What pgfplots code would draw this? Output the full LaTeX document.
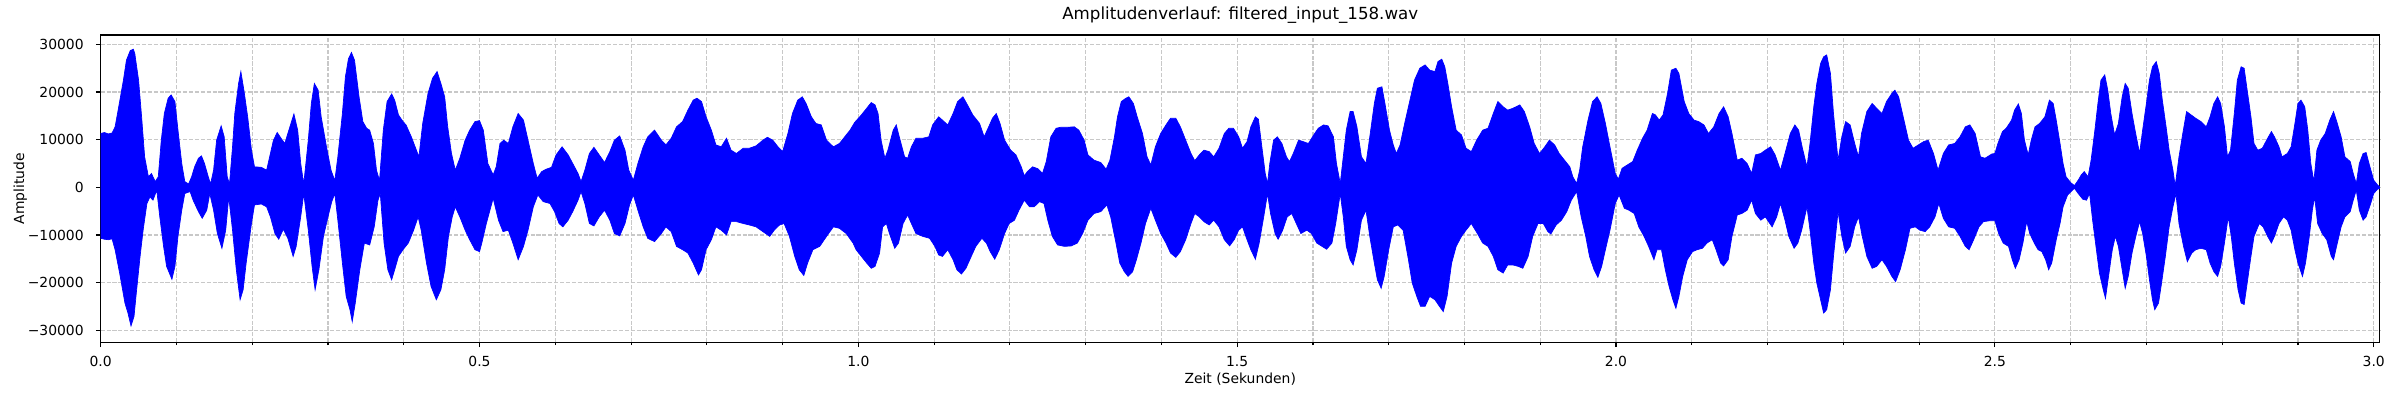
\documentclass[border=0pt]{standalone}
\usepackage{fontspec}
\setmainfont{DejaVu Sans}
\usepackage{pgfplots}
\usepackage{pgfplotstable}
\pgfplotsset{compat=1.18}
\usepgfplotslibrary{fillbetween}
\definecolor{gridc}{RGB}{200,200,200}

\pgfplotstableread{
t v
0.000 11300
0.005 11500
0.010 11200
0.015 11400
0.019 12700
0.023 16200
0.030 22500
0.034 26700
0.039 28700
0.043 29000
0.045 28100
0.050 22500
0.054 14800
0.058 6400
0.063 2200
0.067 2900
0.072 1200
0.076 2200
0.080 9900
0.084 15500
0.089 18700
0.093 19400
0.098 18000
0.102 12000
0.107 5000
0.111 1200
0.116 700
0.120 2200
0.124 4300
0.129 6100
0.133 6600
0.137 5000
0.142 2200
0.145 700
0.149 3600
0.153 9900
0.159 12900
0.163 10600
0.167 2200
0.170 700
0.174 8500
0.177 15500
0.182 21800
0.185 24300
0.189 20400
0.194 14800
0.199 7800
0.203 4300
0.212 4200
0.219 3600
0.223 6400
0.228 9900
0.233 11500
0.238 10300
0.243 9200
0.247 11300
0.255 15400
0.260 12000
0.264 5000
0.268 700
0.274 9900
0.278 17600
0.282 21800
0.287 20400
0.291 14800
0.298 8500
0.304 3600
0.309 1400
0.313 6400
0.319 15500
0.323 23200
0.327 27000
0.331 28300
0.335 26700
0.341 19000
0.346 13800
0.351 12400
0.355 12000
0.360 9200
0.364 3600
0.368 1400
0.373 12000
0.378 18000
0.384 19600
0.388 18300
0.393 15200
0.399 13800
0.403 13100
0.410 10600
0.415 8500
0.420 6400
0.425 13400
0.432 19700
0.438 22900
0.444 24300
0.449 21800
0.454 19000
0.458 12700
0.463 7100
0.468 3600
0.474 6100
0.481 9900
0.487 12000
0.494 13800
0.500 14000
0.505 12000
0.511 5000
0.518 2600
0.522 4300
0.527 9200
0.532 9900
0.538 9200
0.544 12700
0.551 15500
0.558 14100
0.564 9900
0.571 5000
0.576 1900
0.582 3300
0.588 3800
0.595 4200
0.601 6800
0.609 8500
0.617 6800
0.623 5000
0.630 2900
0.634 1200
0.639 3600
0.645 7100
0.651 8400
0.658 6800
0.665 5200
0.672 7500
0.678 9900
0.685 10800
0.692 7800
0.697 3600
0.703 1500
0.709 5000
0.716 8500
0.722 10600
0.731 12000
0.740 9900
0.746 8900
0.753 10300
0.760 12700
0.768 13800
0.775 16200
0.782 18300
0.787 18700
0.793 18000
0.799 14800
0.806 12000
0.812 8900
0.819 8500
0.826 10300
0.832 7800
0.839 7100
0.848 8200
0.856 8200
0.865 8700
0.874 9900
0.880 10500
0.887 9900
0.894 8500
0.900 7500
0.907 11300
0.913 15500
0.920 18300
0.926 19000
0.931 17600
0.938 14800
0.944 13400
0.951 13100
0.958 9900
0.967 8500
0.975 9200
0.982 10600
0.989 12000
0.995 13600
1.004 15200
1.011 16600
1.017 17800
1.022 17300
1.026 15500
1.030 9900
1.035 6100
1.039 7800
1.046 12000
1.050 13100
1.054 10600
1.061 6400
1.065 6100
1.070 8500
1.076 10300
1.085 10300
1.093 10600
1.098 13100
1.106 14800
1.111 14100
1.118 13100
1.125 15500
1.131 18000
1.138 19000
1.144 17300
1.151 15200
1.160 13400
1.166 10600
1.172 12700
1.177 14500
1.182 15500
1.187 13400
1.193 9900
1.201 7800
1.208 6800
1.215 4300
1.219 2400
1.223 3300
1.230 4300
1.237 3900
1.243 2900
1.248 5400
1.254 10600
1.261 12400
1.267 12600
1.276 12600
1.285 12700
1.291 12000
1.298 9900
1.303 6800
1.311 5700
1.320 5200
1.327 3800
1.332 5700
1.338 10600
1.342 14800
1.347 18000
1.353 18700
1.357 19000
1.363 17600
1.368 14800
1.375 11300
1.381 6400
1.386 4700
1.392 8500
1.399 11300
1.406 13100
1.412 14500
1.419 14500
1.425 12700
1.432 9900
1.439 7100
1.444 5600
1.450 6800
1.456 7800
1.463 7500
1.469 6400
1.476 8200
1.483 11300
1.489 12400
1.495 12400
1.502 10600
1.507 8200
1.513 9600
1.518 12700
1.524 14800
1.528 14300
1.532 9200
1.537 2900
1.540 800
1.543 5000
1.548 9900
1.553 10600
1.559 9200
1.565 6400
1.569 5400
1.574 7100
1.581 9900
1.587 9600
1.594 9200
1.601 11000
1.607 12400
1.614 13100
1.620 12900
1.627 10600
1.631 5000
1.636 800
1.640 6400
1.644 12000
1.649 15900
1.653 15900
1.658 12700
1.664 6400
1.670 5000
1.675 10600
1.681 17600
1.685 20800
1.691 21100
1.695 17600
1.701 12000
1.706 8900
1.710 7100
1.715 8900
1.721 13400
1.728 18300
1.734 22500
1.741 25000
1.748 25700
1.754 24600
1.761 24300
1.765 26400
1.770 26900
1.774 25300
1.778 21800
1.783 16900
1.789 12000
1.796 11000
1.802 8200
1.809 7500
1.816 9900
1.824 12000
1.831 12400
1.838 15500
1.844 18000
1.851 16900
1.857 16200
1.864 16600
1.873 17300
1.879 15900
1.886 12700
1.892 9200
1.899 7100
1.906 8500
1.912 9900
1.919 8900
1.925 7100
1.932 5700
1.939 4300
1.943 2200
1.948 800
1.952 3600
1.956 8500
1.963 14100
1.969 18000
1.975 19000
1.980 17600
1.986 13400
1.992 8500
1.999 2900
2.003 1700
2.008 4000
2.015 4700
2.022 5400
2.028 7800
2.035 10300
2.041 12000
2.048 15500
2.052 15200
2.057 14100
2.062 15200
2.068 19700
2.073 24600
2.079 25000
2.083 23900
2.090 18000
2.096 15500
2.103 14100
2.109 13800
2.116 13100
2.122 11300
2.129 12700
2.136 15500
2.142 16900
2.148 14800
2.153 11300
2.160 5700
2.166 6100
2.173 5000
2.179 2900
2.184 6800
2.191 7100
2.197 7800
2.204 8500
2.210 6800
2.217 3600
2.223 7100
2.230 11300
2.236 13100
2.241 12000
2.246 8200
2.252 4300
2.256 9200
2.261 16900
2.265 21800
2.270 26000
2.274 27400
2.278 27800
2.283 23900
2.287 15500
2.293 5700
2.298 10600
2.303 13800
2.309 13100
2.315 9200
2.320 6400
2.324 11300
2.331 15900
2.338 17600
2.344 16600
2.351 15500
2.357 18000
2.364 19700
2.368 20400
2.373 19000
2.379 14800
2.386 9900
2.392 8200
2.399 8900
2.406 9600
2.412 9900
2.419 7100
2.425 3600
2.432 7100
2.439 8900
2.447 9200
2.454 10600
2.461 12700
2.467 13100
2.474 11300
2.481 6400
2.487 6100
2.496 7000
2.500 7100
2.504 9200
2.510 11700
2.515 12400
2.522 14100
2.526 16200
2.531 17500
2.535 15500
2.539 9900
2.544 6800
2.548 9900
2.553 12700
2.559 13400
2.566 14800
2.572 18300
2.577 17600
2.581 14100
2.586 9200
2.590 5000
2.594 2200
2.600 1000
2.605 350
2.610 1500
2.614 2600
2.618 3300
2.623 2200
2.627 5700
2.632 12000
2.636 17600
2.640 22500
2.645 23600
2.649 20400
2.653 15500
2.658 11000
2.663 13400
2.668 19000
2.672 21800
2.676 20800
2.681 15500
2.685 12000
2.691 7100
2.695 12000
2.700 17600
2.704 22500
2.708 25300
2.713 26400
2.717 23900
2.721 18300
2.726 12700
2.730 7800
2.735 3600
2.738 300
2.743 6400
2.748 11300
2.753 15900
2.759 15200
2.765 14500
2.772 13800
2.779 12700
2.784 14800
2.789 17600
2.794 19000
2.798 17600
2.803 12700
2.807 6400
2.811 7800
2.816 15500
2.820 22500
2.825 25300
2.829 25000
2.833 20400
2.838 14800
2.842 9200
2.847 7800
2.853 8200
2.860 10300
2.865 11700
2.869 10600
2.875 8500
2.879 6400
2.886 7100
2.891 8500
2.896 13400
2.900 17600
2.904 18300
2.909 16900
2.913 12000
2.917 5000
2.921 1200
2.925 7800
2.930 9900
2.936 11300
2.942 14100
2.947 15900
2.952 13400
2.957 10600
2.962 6400
2.969 5400
2.973 2900
2.977 800
2.981 5000
2.986 7100
2.990 7300
2.995 4300
3.000 1500
3.005 500
3.008 100
}\upperenv

\pgfplotstableread{
t v
0.000 -10700
0.005 -10900
0.010 -11000
0.015 -10800
0.019 -13100
0.025 -18000
0.032 -24300
0.036 -26400
0.040 -29100
0.044 -27100
0.047 -22200
0.052 -14500
0.056 -9000
0.061 -3400
0.065 -2000
0.069 -2700
0.074 -600
0.078 -6200
0.083 -12400
0.087 -16600
0.094 -19300
0.098 -16600
0.102 -10300
0.107 -4800
0.111 -1300
0.118 -900
0.122 -2700
0.129 -5100
0.134 -6500
0.140 -4800
0.144 -1300
0.149 -4800
0.154 -9700
0.160 -12800
0.165 -9000
0.169 -2000
0.174 -9000
0.179 -17300
0.184 -23600
0.188 -21500
0.192 -15900
0.199 -7600
0.203 -3700
0.212 -3500
0.219 -4100
0.224 -6200
0.230 -9700
0.235 -10900
0.241 -8800
0.247 -10700
0.254 -14500
0.258 -12400
0.264 -6200
0.268 -1300
0.274 -9000
0.279 -16600
0.283 -21500
0.288 -17300
0.294 -10300
0.300 -6200
0.305 -3000
0.309 -1300
0.313 -6900
0.319 -15900
0.324 -22900
0.329 -25700
0.332 -28200
0.336 -24300
0.342 -17300
0.348 -11700
0.355 -12100
0.361 -8300
0.366 -2700
0.369 -1300
0.374 -11700
0.379 -17300
0.384 -19400
0.388 -17300
0.393 -14500
0.399 -13100
0.406 -11700
0.413 -9000
0.419 -6200
0.423 -9000
0.430 -15900
0.436 -20800
0.443 -23600
0.449 -21500
0.454 -17300
0.459 -10300
0.464 -6200
0.468 -4100
0.474 -6200
0.481 -9000
0.487 -11000
0.494 -13100
0.500 -13500
0.503 -11700
0.509 -7600
0.518 -2300
0.525 -6900
0.531 -9300
0.538 -9000
0.544 -11700
0.551 -15200
0.558 -12400
0.564 -9000
0.571 -4100
0.577 -1600
0.584 -3000
0.593 -3400
0.599 -5100
0.605 -7600
0.610 -8300
0.617 -6900
0.623 -5100
0.630 -2700
0.634 -900
0.639 -3400
0.645 -7600
0.651 -8100
0.658 -6200
0.665 -4800
0.672 -6900
0.678 -9700
0.685 -10200
0.692 -7600
0.698 -3700
0.703 -1600
0.709 -4800
0.716 -8300
0.722 -10700
0.731 -11400
0.740 -9700
0.746 -8300
0.753 -9300
0.760 -12400
0.768 -13100
0.775 -13800
0.782 -15900
0.789 -18400
0.793 -17300
0.799 -13100
0.806 -11000
0.812 -8300
0.819 -9000
0.826 -10000
0.832 -7200
0.839 -7200
0.848 -7600
0.856 -7900
0.865 -8300
0.874 -9300
0.883 -10300
0.889 -9000
0.896 -7900
0.902 -7600
0.909 -10300
0.916 -14500
0.922 -17300
0.928 -18500
0.933 -15900
0.940 -13100
0.949 -12400
0.958 -10300
0.967 -8300
0.975 -8600
0.984 -9700
0.993 -11700
0.997 -13100
1.004 -14500
1.011 -15900
1.017 -17000
1.022 -16600
1.028 -13800
1.032 -8300
1.037 -7600
1.041 -9700
1.048 -12800
1.053 -11700
1.059 -7600
1.065 -5800
1.070 -7600
1.076 -9700
1.085 -10300
1.094 -10700
1.101 -12400
1.106 -14200
1.111 -14500
1.118 -13100
1.125 -15200
1.130 -17300
1.136 -18200
1.142 -17000
1.149 -14500
1.155 -12400
1.163 -10700
1.169 -11700
1.174 -13500
1.180 -15100
1.186 -13100
1.193 -9700
1.199 -7600
1.206 -6900
1.212 -4800
1.219 -2700
1.226 -4100
1.232 -4100
1.239 -3000
1.245 -3400
1.250 -6900
1.256 -10300
1.263 -12100
1.272 -12400
1.281 -12300
1.289 -11700
1.296 -9700
1.303 -6900
1.311 -5500
1.320 -5100
1.328 -3700
1.333 -6200
1.340 -11700
1.345 -15900
1.351 -17700
1.356 -18700
1.362 -17700
1.367 -15200
1.373 -11700
1.379 -7600
1.386 -4400
1.392 -6900
1.399 -9700
1.406 -11700
1.412 -13800
1.419 -14700
1.425 -13500
1.432 -11000
1.439 -7600
1.444 -5500
1.450 -6200
1.456 -7200
1.463 -7900
1.469 -6900
1.476 -8300
1.483 -11000
1.490 -12300
1.496 -11000
1.502 -9000
1.507 -8300
1.513 -11000
1.518 -13100
1.524 -15100
1.529 -11700
1.535 -6200
1.540 -1300
1.544 -5500
1.550 -9700
1.554 -10900
1.560 -9000
1.566 -6200
1.572 -5500
1.578 -7600
1.584 -9700
1.592 -9000
1.598 -9700
1.605 -11700
1.612 -12400
1.618 -13000
1.625 -11700
1.630 -7600
1.636 -1300
1.640 -6200
1.644 -12400
1.649 -15200
1.653 -16300
1.658 -13100
1.664 -6900
1.670 -4800
1.675 -10300
1.681 -15900
1.685 -19400
1.690 -21200
1.694 -18700
1.700 -13100
1.706 -8300
1.712 -7900
1.719 -9000
1.726 -15200
1.731 -20100
1.737 -22900
1.742 -25000
1.748 -25000
1.754 -22900
1.761 -23600
1.767 -25000
1.772 -26100
1.777 -22900
1.783 -15900
1.789 -12400
1.796 -10300
1.802 -9000
1.809 -7600
1.817 -9700
1.824 -11700
1.831 -12400
1.838 -14500
1.844 -17300
1.851 -18000
1.857 -16300
1.864 -16300
1.871 -16600
1.877 -17000
1.884 -14500
1.890 -10300
1.897 -7600
1.904 -7600
1.910 -9300
1.914 -9800
1.921 -7900
1.928 -6900
1.935 -5100
1.941 -2700
1.948 -900
1.954 -6200
1.960 -10300
1.965 -14500
1.971 -17300
1.976 -18900
1.981 -16600
1.987 -12400
1.992 -9000
1.999 -3400
2.004 -1600
2.011 -4400
2.017 -4800
2.024 -5500
2.030 -8300
2.037 -10300
2.043 -12400
2.050 -15200
2.054 -13100
2.060 -13100
2.065 -17300
2.070 -20800
2.075 -23600
2.079 -25400
2.083 -22900
2.088 -18700
2.094 -15200
2.101 -13500
2.107 -13100
2.114 -12800
2.120 -11700
2.127 -11000
2.132 -13100
2.138 -15900
2.142 -16500
2.148 -15200
2.153 -10300
2.160 -5800
2.166 -5500
2.173 -4800
2.179 -2700
2.184 -5500
2.191 -6900
2.197 -6200
2.206 -8300
2.212 -6200
2.217 -3400
2.223 -6900
2.228 -10300
2.235 -12800
2.240 -11700
2.245 -9000
2.252 -4100
2.256 -9000
2.261 -15900
2.265 -20100
2.270 -23600
2.274 -26400
2.278 -25700
2.283 -21500
2.287 -14500
2.293 -5100
2.298 -10300
2.303 -13800
2.309 -12400
2.315 -8300
2.320 -6200
2.325 -10300
2.331 -14500
2.338 -17000
2.344 -16600
2.351 -15200
2.357 -16600
2.364 -18700
2.369 -19800
2.375 -17300
2.382 -13100
2.388 -8600
2.395 -8300
2.401 -9000
2.408 -9300
2.414 -8300
2.421 -6200
2.426 -3400
2.432 -6500
2.439 -8300
2.447 -8600
2.454 -10300
2.461 -12400
2.466 -13100
2.472 -11000
2.479 -8300
2.485 -7200
2.494 -7000
2.500 -7000
2.505 -9700
2.511 -11700
2.518 -12400
2.523 -15200
2.527 -17000
2.532 -15200
2.537 -11700
2.542 -7200
2.546 -9700
2.552 -11700
2.557 -13100
2.562 -13500
2.567 -15200
2.571 -17300
2.575 -15900
2.581 -11000
2.586 -7600
2.590 -4100
2.596 -1600
2.605 -200
2.610 -1300
2.616 -2500
2.621 -2700
2.625 -1300
2.629 -6900
2.634 -13100
2.638 -18000
2.643 -21500
2.646 -23300
2.650 -18700
2.655 -13100
2.659 -10300
2.663 -12400
2.668 -17300
2.672 -21200
2.676 -18700
2.681 -13800
2.686 -10300
2.691 -7200
2.695 -9700
2.700 -14500
2.704 -19400
2.708 -23600
2.711 -25700
2.716 -24300
2.720 -20100
2.725 -14500
2.730 -8300
2.735 -4100
2.739 -1300
2.743 -7600
2.749 -12400
2.754 -15600
2.760 -13800
2.765 -13100
2.772 -12800
2.779 -13100
2.784 -15900
2.789 -17700
2.794 -18700
2.798 -16600
2.803 -11700
2.808 -6200
2.812 -10300
2.816 -15900
2.821 -21500
2.825 -24300
2.829 -24600
2.833 -20100
2.838 -14500
2.842 -10300
2.849 -7600
2.854 -8300
2.860 -10300
2.865 -11700
2.869 -10300
2.875 -7600
2.881 -6200
2.886 -6900
2.891 -9000
2.896 -13100
2.900 -15900
2.906 -18700
2.910 -15900
2.915 -10300
2.919 -4800
2.922 -2000
2.926 -7600
2.932 -9700
2.938 -11000
2.944 -14500
2.947 -15200
2.952 -11700
2.957 -8300
2.962 -6200
2.969 -5100
2.973 -2700
2.977 -600
2.981 -4800
2.986 -6900
2.990 -6200
2.996 -3400
3.000 -1300
3.005 -400
3.008 -200
}\lowerenv

\begin{document}
\fontsize{10}{12}\selectfont
\begin{tikzpicture}
\begin{axis}[
  at={(0pt,0pt)}, anchor=south west,
  scale only axis, width=1640.9pt, height=221.3pt,
  xmin=0, xmax=3.008, ymin=-32550, ymax=31980,
  scaled x ticks=false, scaled y ticks=false,
  axis line style={line width=0.8pt, black},
  tick style={line width=0.8pt, black},
  tick align=outside,
  major tick length=3.5pt, minor tick length=2pt,
  xtick pos=lower, ytick pos=left,
  xtick={0,0.5,1,1.5,2,2.5,3},
  xticklabels={0.0,0.5,1.0,1.5,2.0,2.5,3.0},
  minor xtick={0.1,0.2,0.3,0.4,0.6,0.7,0.8,0.9,1.1,1.2,1.3,1.4,1.6,1.7,1.8,1.9,2.1,2.2,2.3,2.4,2.6,2.7,2.8,2.9},
  ytick={-30000,-20000,-10000,0,10000,20000,30000},
  yticklabels={−30000,−20000,−10000,0,10000,20000,30000},
  xmajorgrids, xminorgrids, ymajorgrids,
  grid style={gridc, line width=0.8pt, dash pattern=on 2.96pt off 1.28pt},
  minor grid style={gridc, line width=0.8pt, dash pattern=on 2.96pt off 1.28pt},
  xticklabel style={anchor=base, inner sep=0pt, yshift=-14pt, font=\fontsize{10}{12}\selectfont},
  yticklabel style={anchor=east, inner sep=0pt, xshift=-8.6pt, font=\fontsize{10}{12}\selectfont},
  xlabel={Zeit (Sekunden)},
  ylabel={Amplitude},
  title={Amplitudenverlauf: filtered\_input\_158.wav},
  xlabel style={at={(axis description cs:0.5,-0.1333)}, anchor=base, inner sep=0pt, font=\fontsize{10}{12}\selectfont},
  ylabel style={at={(axis description cs:-0.0322,0.5)}, anchor=south, inner sep=0pt, font=\fontsize{10}{12}\selectfont},
  title style={at={(axis description cs:0.5,1.0226)}, anchor=base, inner sep=0pt, font=\fontsize{12}{14.4}\selectfont},
]
\addplot[name path=U, draw=blue, line width=0.5pt] table[x=t, y=v] {\upperenv};
\addplot[name path=L, draw=blue, line width=0.5pt] table[x=t, y=v] {\lowerenv};
\addplot[fill=blue, draw=none] fill between[of=U and L];
\end{axis}
\path (-72.5pt,-41.5pt) rectangle (1655.5pt,246.5pt);
\end{tikzpicture}
\end{document}
